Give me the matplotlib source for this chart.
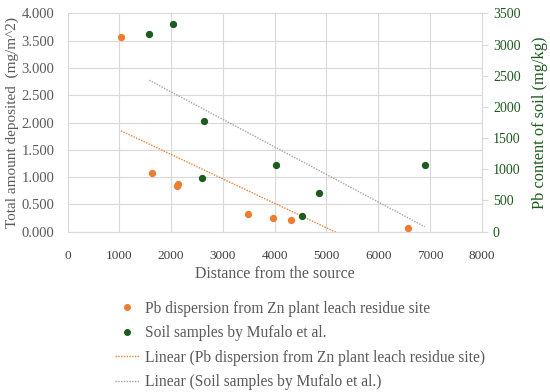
import numpy as np
import matplotlib
matplotlib.use("Agg")
import matplotlib.pyplot as plt
from matplotlib.lines import Line2D

# data
pb_dist = [1030, 1630, 2105, 2125, 3490, 3970, 4305, 6565]
pb_dep = [3.56, 1.07, 0.84, 0.87, 0.32, 0.245, 0.21, 0.068]
soil_dist = [1577, 2029, 2633, 2589, 4029, 4859, 4525, 6900]
soil_pb = [3168, 3322, 1768, 856, 1064, 625, 256, 1068]

x_ticks = [0, 1000, 2000, 3000, 4000, 5000, 6000, 7000, 8000]
left_ticks = [0, 0.5, 1.0, 1.5, 2.0, 2.5, 3.0, 3.5, 4.0]
right_ticks = [0, 500, 1000, 1500, 2000, 2500, 3000, 3500]

orange = "#ED7D31"
green = "#1E5B1E"
grey_txt = "#595959"
grid_c = "#D9D9D9"

plt.rcParams["font.family"] = ["Liberation Serif", "DejaVu Serif"]

fig = plt.figure(figsize=(5.5, 3.92), dpi=100)
ax = fig.add_axes([0.123, 0.409, 0.753, 0.557])
ax2 = ax.twinx()

ax.set_xlim(0, 8000)
ax.set_ylim(0, 4)
ax2.set_ylim(0, 3500)
ax.set_xticks(x_ticks)
ax.set_xticklabels([str(t) for t in x_ticks])
ax.set_yticks(left_ticks)
ax.set_yticklabels([f"{t:.3f}" for t in left_ticks])
ax2.set_yticks(right_ticks)
ax2.set_yticklabels([str(t) for t in right_ticks])

ax.grid(True, color=grid_c, linewidth=0.8)
ax.set_axisbelow(True)
for a in (ax, ax2):
    for s in ("top", "left"):
        a.spines[s].set_visible(False)
    a.spines["bottom"].set_color(grid_c)
    a.spines["right"].set_color(grid_c)
ax.spines["right"].set_visible(False)
ax2.spines["bottom"].set_visible(False)

ax.tick_params(axis="x", length=0, labelsize=9.5, labelcolor="#404040", pad=13)
ax.tick_params(axis="y", length=0, labelsize=10.5, labelcolor=grey_txt, pad=9.5)
ax2.tick_params(axis="y", length=4, color=grid_c, labelsize=10, labelcolor=green, pad=4)

# trendlines (least squares, drawn over each series' own x range)
k1, b1 = np.polyfit(pb_dist, pb_dep, 1)
xs1 = np.array([min(pb_dist), max(pb_dist)])
ax.plot(xs1, k1 * xs1 + b1, color=orange, linestyle=(0, (1, 1)), linewidth=1.0)

k2, b2 = np.polyfit(soil_dist, soil_pb, 1)
xs2 = np.array([min(soil_dist), max(soil_dist)])
ax2.plot(xs2, k2 * xs2 + b2, color="#A5A5A5", linestyle=(0, (1, 1)), linewidth=1.0)

ax.scatter(pb_dist, pb_dep, s=18, color=orange, zorder=3, clip_on=False)
ax2.scatter(soil_dist, soil_pb, s=18, color=green, zorder=3, clip_on=False)

ax.set_xlabel("Distance from the source", fontsize=11.4, color=grey_txt, labelpad=3)
ax.set_ylabel("Total amount deposited  (mg/m^2)", fontsize=11, color=grey_txt, labelpad=2)
ax2.set_ylabel("Pb content of soil (mg/kg)", fontsize=11.8, color=green, labelpad=8)

handles = [
    Line2D([], [], marker="o", linestyle="none", color=orange, markersize=4),
    Line2D([], [], marker="o", linestyle="none", color=green, markersize=4),
    Line2D([], [], color=orange, linestyle=(0, (1, 1)), linewidth=1.0),
    Line2D([], [], color="#A5A5A5", linestyle=(0, (1, 1)), linewidth=1.0),
]
labels = [
    "Pb dispersion from Zn plant leach residue site",
    "Soil samples by Mufalo et al.",
    "Linear (Pb dispersion from Zn plant leach residue site)",
    "Linear (Soil samples by Mufalo et al.)",
]
fig.legend(handles, labels, loc="upper left", bbox_to_anchor=(0.195, 0.253),
           frameon=False, fontsize=11.2, labelcolor=grey_txt, handlelength=1.6,
           handletextpad=0.3, labelspacing=0.55, borderpad=0)

fig.savefig("out.png", dpi=100)
